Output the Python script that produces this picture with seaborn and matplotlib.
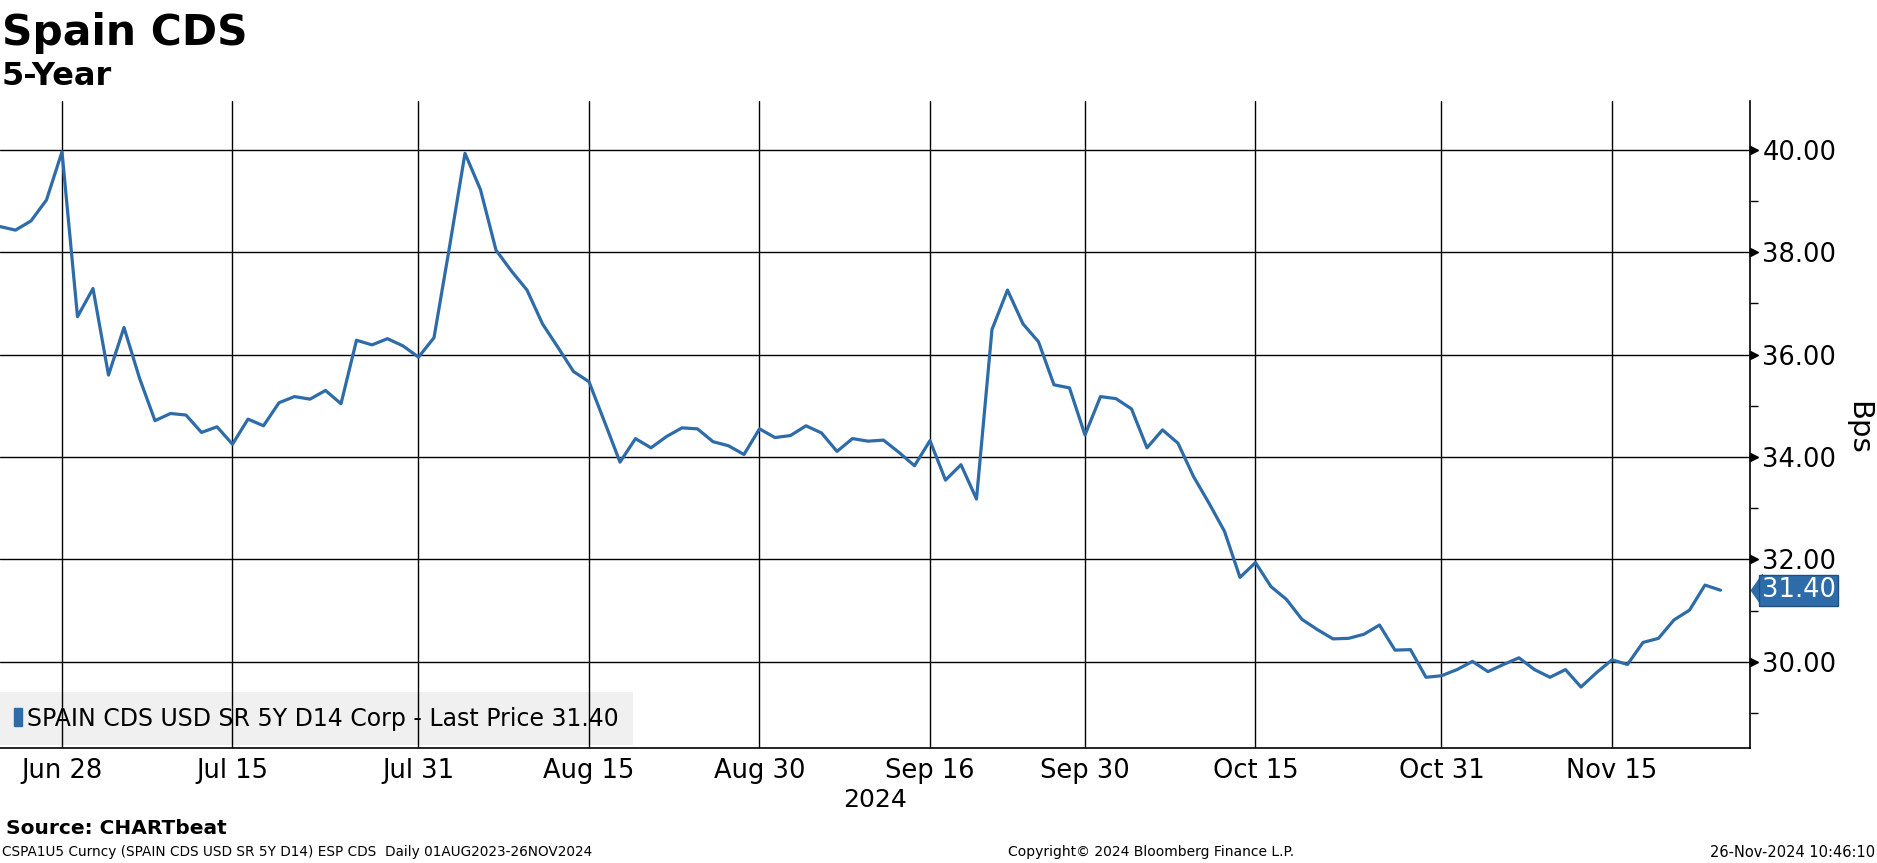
import numpy as np
import pandas as pd
import matplotlib
matplotlib.use("Agg")
import matplotlib.pyplot as plt
import matplotlib.transforms as mtransforms
from matplotlib.patches import Patch
import seaborn as sns

# Spain 5Y CDS, daily (business days) 24 Jun - 26 Nov 2024
start_date = "2024-06-24"
end_date = "2024-11-26"
cds_values = [
    38.50, 38.43, 38.61, 39.02, 39.96, 36.74, 37.29, 35.60, 36.53, 35.54,
    34.71, 34.85, 34.82, 34.48, 34.59, 34.25, 34.74, 34.61, 35.06, 35.18,
    35.13, 35.30, 35.04, 36.28, 36.19, 36.31, 36.17, 35.95, 36.33, 38.10,
    39.93, 39.22, 38.04, 37.63, 37.26, 36.60, 36.14, 35.67, 35.47, 34.69,
    33.90, 34.36, 34.18, 34.40, 34.57, 34.55, 34.30, 34.22, 34.05, 34.55,
    34.38, 34.42, 34.61, 34.47, 34.11, 34.36, 34.31, 34.33, 34.09, 33.83,
    34.32, 33.55, 33.85, 33.18, 36.49, 37.26, 36.60, 36.25, 35.41, 35.35,
    34.43, 35.18, 35.14, 34.94, 34.18, 34.53, 34.27, 33.62, 33.10, 32.55,
    31.65, 31.94, 31.47, 31.22, 30.83, 30.63, 30.45, 30.46, 30.54, 30.72,
    30.23, 30.24, 29.70, 29.73, 29.85, 30.01, 29.81, 29.95, 30.08, 29.85,
    29.70, 29.85, 29.51, 29.79, 30.04, 29.95, 30.38, 30.46, 30.82, 31.01,
    31.50, 31.40,
]
last_price = 31.40

tick_dates = ["2024-06-28", "2024-07-15", "2024-07-31", "2024-08-15", "2024-08-30",
              "2024-09-16", "2024-09-30", "2024-10-15", "2024-10-31", "2024-11-15"]
tick_labels = ["Jun 28", "Jul 15", "Jul 31", "Aug 15", "Aug 30",
               "Sep 16", "Sep 30", "Oct 15", "Oct 31", "Nov 15"]
minor_dates = ["2024-07-08", "2024-07-23", "2024-08-08", "2024-08-23", "2024-09-09",
               "2024-09-23", "2024-10-08", "2024-10-23", "2024-11-08", "2024-11-22"]
y_ticks = [30, 32, 34, 36, 38, 40]
y_minor = [29, 31, 33, 35, 37, 39]

dates = pd.bdate_range(start_date, end_date)
df = pd.DataFrame({"date": dates, "pos": np.arange(len(dates)), "cds": cds_values})
pos_of = {d: i for i, d in enumerate(dates)}
tick_pos = [pos_of[pd.Timestamp(d)] for d in tick_dates]
minor_pos = [pos_of[pd.Timestamp(d)] for d in minor_dates]

sns.set_style("white")
plt.rcParams["font.family"] = ["DejaVu Sans"]
plt.rcParams["text.color"] = "black"
plt.rcParams["axes.labelcolor"] = "black"
plt.rcParams["xtick.color"] = "black"
plt.rcParams["ytick.color"] = "black"

blue = "#2d6ca8"

fig = plt.figure(figsize=(18.77, 8.63), dpi=100)
ax = fig.add_axes([0, 0.1333, 0.9323, 0.7502])

sns.lineplot(data=df, x="pos", y="cds", ax=ax, color=blue, linewidth=2.3, legend=False)

ax.set_xlim(0, len(dates) - 1 + 1.9)
ax.set_ylim(28.32, 40.96)

# x axis
ax.set_xticks(tick_pos)
ax.set_xticklabels(tick_labels)
ax.set_xticks(minor_pos, minor=True)
ax.set_xlabel("2024", fontsize=18, labelpad=3)
ax.tick_params(axis="x", which="major", length=0, pad=7, labelsize=18.5)
ax.tick_params(axis="x", which="minor", length=7, width=1, color="black", direction="out")

# y axis on right
ax.yaxis.tick_right()
ax.set_yticks(y_ticks)
ax.set_yticklabels([f"{v:.2f}" for v in y_ticks])
ax.set_yticks(y_minor, minor=True)
ax.tick_params(axis="y", which="major", length=0, pad=9, labelsize=18.5)
ax.tick_params(axis="y", which="minor", length=6, width=1, color="black", direction="out")
ax.set_ylabel("Bps", rotation=270, fontsize=21, va="center", ha="center")
ax.yaxis.set_label_coords(1.062, 0.494)

ax.grid(True, which="major", color="black", linewidth=1.0)
ax.set_axisbelow("line")

for s in ["top", "left"]:
    ax.spines[s].set_visible(False)
for s in ["right", "bottom"]:
    ax.spines[s].set_color("black")
    ax.spines[s].set_linewidth(1.2)

# arrow markers at major y ticks
trans = mtransforms.blended_transform_factory(ax.transAxes, ax.transData)
arrow_off = mtransforms.ScaledTranslation(4.5 / 100, 0, fig.dpi_scale_trans)
ax.plot([1.0] * len(y_ticks), y_ticks, ls="none", marker=">", ms=6, color="black",
        transform=trans + arrow_off, clip_on=False)

# last price tag
tag_off = mtransforms.ScaledTranslation(12 / 100, 0, fig.dpi_scale_trans)
ax.text(1.0, last_price, f"{last_price:.2f}", transform=trans + tag_off,
        ha="left", va="center", color="white", fontsize=18.5,
        bbox=dict(boxstyle="square,pad=0.1", fc=blue, ec="#1f4f7f", lw=1))
ax.plot([1.0], [last_price], ls="none",
        marker=[(-0.7, 0), (0, 1), (0, -1), (-0.7, 0)], ms=23,
        color=blue, mec=blue, transform=trans + tag_off, clip_on=False)

# legend
handles = [Patch(facecolor=blue, edgecolor=blue)]
leg = ax.legend(handles, ["SPAIN CDS USD SR 5Y D14 Corp - Last Price 31.40"],
                loc="lower left", bbox_to_anchor=(0, 0.005), frameon=True,
                facecolor="#f0f0f0", edgecolor="none", framealpha=1, fancybox=False,
                fontsize=17, handlelength=0.35, handleheight=0.8, handletextpad=0.2,
                borderpad=0.6, borderaxespad=0)
leg.set_zorder(1)

# titles and footer
fig.text(0.001, 1 - 45 / 863, "Spain CDS", fontsize=30.5, fontweight="bold",
         ha="left", va="baseline")
fig.text(0.001, 1 - 85 / 863, "5-Year", fontsize=23, fontweight="bold",
         ha="left", va="baseline")
fig.text(0.003, 1 - 828 / 863, "Source: CHARTbeat", fontsize=14.5, fontweight="bold",
         ha="left", va="center")
fig.text(0.001, 1 - 852 / 863,
         "CSPA1U5 Curncy (SPAIN CDS USD SR 5Y D14) ESP CDS  Daily 01AUG2023-26NOV2024",
         fontsize=9.8, ha="left", va="center")
fig.text(1151 / 1877, 1 - 852 / 863, "Copyright\u00a9 2024 Bloomberg Finance L.P.",
         fontsize=10, ha="center", va="center")
fig.text(0.999, 1 - 852 / 863, "26-Nov-2024 10:46:10", fontsize=10.5, ha="right", va="center")

fig.savefig("out.png", dpi=100)
